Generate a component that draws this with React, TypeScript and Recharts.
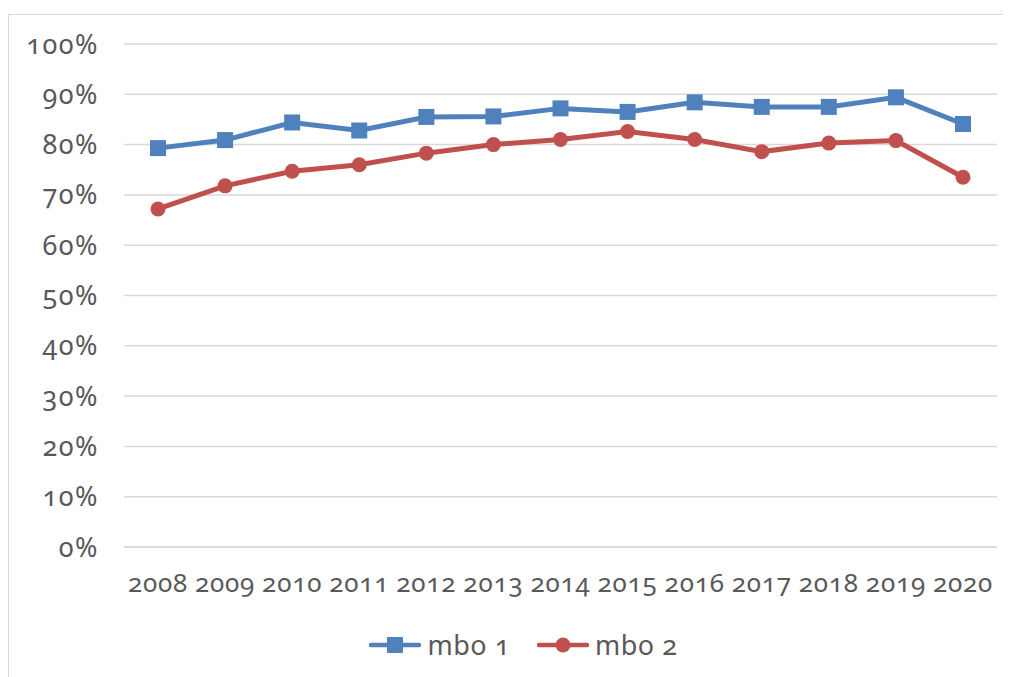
import React from 'react';
import { LineChart, Line, XAxis, YAxis, CartesianGrid, Legend } from 'recharts';

const years = ['2008','2009','2010','2011','2012','2013','2014','2015','2016','2017','2018','2019','2020'];
const mbo1 = [0.793, 0.809, 0.844, 0.828, 0.855, 0.856, 0.872, 0.865, 0.884, 0.875, 0.875, 0.894, 0.841];
const mbo2 = [0.672, 0.718, 0.747, 0.760, 0.783, 0.800, 0.810, 0.826, 0.810, 0.786, 0.803, 0.808, 0.735];
const yTicks = [0, 0.1, 0.2, 0.3, 0.4, 0.5, 0.6, 0.7, 0.8, 0.9, 1];
const seriesNames = ['mbo 1', 'mbo 2'];

const data = years.map((y, i) => ({ year: y, mbo1: mbo1[i], mbo2: mbo2[i] }));

const BLUE = '#4F81BD';
const RED = '#C0504D';
const TEXT = '#595959';
const FONT = '"Noto Sans", sans-serif';

const SquareDot = (props: any) => {
  const { cx, cy } = props;
  if (cx == null || cy == null) return null;
  return <rect x={cx - 8} y={cy - 8} width={16} height={16} fill={BLUE} />;
};
const CircleDot = (props: any) => {
  const { cx, cy } = props;
  if (cx == null || cy == null) return null;
  return <circle cx={cx} cy={cy} r={7.5} fill={RED} />;
};

const LegendContent = () => (
  <div style={{ display: 'flex', justifyContent: 'center', alignItems: 'center', fontFamily: FONT, fontSize: 27, color: TEXT, fontVariantNumeric: 'oldstyle-nums', paddingLeft: 40, letterSpacing: 0.5 }}>
    <div style={{ display: 'flex', alignItems: 'center', marginRight: 27 }}>
      <svg width={52} height={20}>
        <line x1={2} y1={10} x2={50} y2={10} stroke={BLUE} strokeWidth={4.5} strokeLinecap="round" />
        <rect x={18} y={2} width={16} height={16} fill={BLUE} />
      </svg>
      <span style={{ marginLeft: 7 }}>{seriesNames[0]}</span>
    </div>
    <div style={{ display: 'flex', alignItems: 'center' }}>
      <svg width={52} height={20}>
        <line x1={2} y1={10} x2={50} y2={10} stroke={RED} strokeWidth={4.5} strokeLinecap="round" />
        <circle cx={26} cy={10} r={7.5} fill={RED} />
      </svg>
      <span style={{ marginLeft: 6 }}>{seriesNames[1]}</span>
    </div>
  </div>
);

export default function App() {
  const xTickStyle = { fill: TEXT, fontSize: 26, fontFamily: FONT, letterSpacing: 0.8 };
  const yTickStyle = { fill: TEXT, fontSize: 27, fontFamily: FONT, letterSpacing: 1.5 };
  return (
    <div style={{ marginTop: 6, width: 1010, height: 670, border: '1px solid #d9d9d9', boxSizing: 'border-box', background: '#fff' }}>
      <style>{`.recharts-text { font-variant-numeric: oldstyle-nums; font-feature-settings: "onum" 1; }`}</style>
      <LineChart width={1002} height={662} data={data} margin={{ top: 29, right: 14, bottom: 0, left: 0 }}>
        <CartesianGrid vertical={false} stroke="#d9d9d9" strokeWidth={1.5} />
        <XAxis
          dataKey="year"
          axisLine={{ stroke: '#d9d9d9', strokeWidth: 1.5 }}
          tickLine={false}
          tickSize={6}
          tickMargin={21}
          padding={{ left: 34, right: 34 }}
          interval={0}
          height={93}
          tick={xTickStyle}
        />
        <YAxis
          domain={[0, 1]}
          ticks={yTicks}
          width={115}
          axisLine={false}
          tickLine={false}
          tickSize={6}
          tickMargin={19}
          tickFormatter={(v: number) => `${Math.round(v * 100)}%`}
          tick={yTickStyle}
          interval={0}
        />
        <Legend verticalAlign="bottom" content={<LegendContent />} wrapperStyle={{ bottom: 14 }} />
        <Line dataKey="mbo1" name={seriesNames[0]} stroke={BLUE} strokeWidth={5} dot={<SquareDot />} activeDot={false} isAnimationActive={false} />
        <Line dataKey="mbo2" name={seriesNames[1]} stroke={RED} strokeWidth={5} dot={<CircleDot />} activeDot={false} isAnimationActive={false} />
      </LineChart>
    </div>
  );
}
